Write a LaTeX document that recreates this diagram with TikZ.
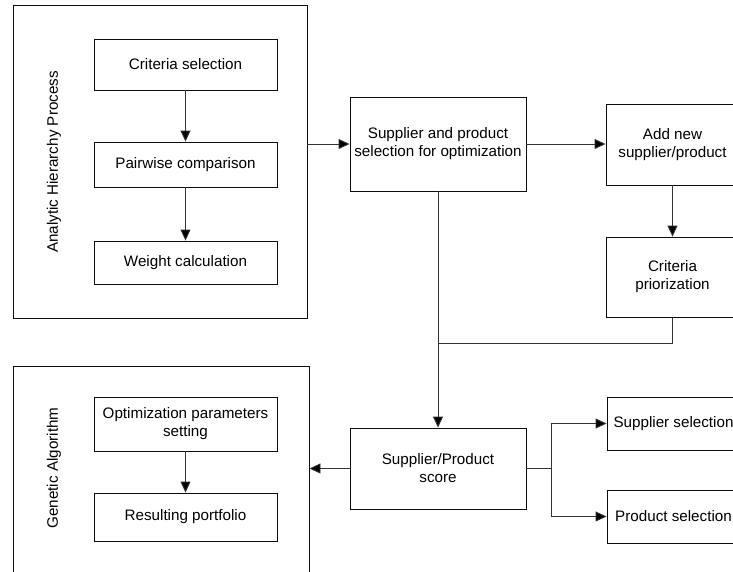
\documentclass[tikz,border=0pt]{standalone}
\usepackage{fontspec}
\setmainfont{Liberation Sans}
\usetikzlibrary{arrows.meta}
\definecolor{boxline}{gray}{0.05}
\definecolor{flowline}{gray}{0.2}
\tikzset{
  txt/.style={font=\fontsize{15.2}{18}\selectfont,text=black},
  grpbox/.style={draw=boxline,line width=0.9pt,rectangle,inner sep=0pt},
  grplab/.style={txt,rotate=90},
  procbox/.style={draw=boxline,line width=0.9pt,rectangle,inner sep=0pt,align=center,txt},
  flow/.style={draw=flowline,line width=0.9pt,-{Triangle[width=10pt,length=11pt,fill=black]}},
  link/.style={draw=flowline,line width=0.9pt},
}

\begin{document}
\begin{tikzpicture}[x=1pt,y=-1pt]
  \useasboundingbox (0,0) rectangle (733,571);
  \clip (0,0) rectangle (733,571);
  % group frames
  \node[grpbox,minimum width=294pt,minimum height=313pt] (ahp) at (160,161.5) {};
  \node[grplab] (ahplab) at (54,162) {Analytic Hierarchy Process};
  \node[grpbox,minimum width=296pt,minimum height=206pt] (ga) at (161,469) {};
  \node[grplab] (galab) at (54,468) {Genetic Algorithm};
  % AHP steps
  \node[procbox,minimum width=183pt,minimum height=51pt] (crit) at (185.5,64.5) {Criteria selection};
  \node[procbox,minimum width=183pt,minimum height=45pt] (pair) at (185.5,164.5) {Pairwise comparison};
  \node[procbox,minimum width=183pt,minimum height=43pt] (weight) at (185.5,262.5) {Weight calculation};
  % GA steps
  \node[procbox,minimum width=183pt,minimum height=54pt] (opt) at (185.5,424) {Optimization parameters\\setting};
  \node[procbox,minimum width=183pt,minimum height=48pt] (result) at (185.5,517) {Resulting portfolio};
  % middle column
  \node[procbox,minimum width=176pt,minimum height=94pt] (sel) at (438,144) {Supplier and product\\selection for optimization};
  \node[procbox,minimum width=176pt,minimum height=81pt] (score) at (438,468.5) {Supplier/Product\\score};
  % right column
  \node[procbox,minimum width=133pt,minimum height=81pt] (addnew) at (672.5,144.5) {Add new\\supplier/product};
  \node[procbox,minimum width=133pt,minimum height=80pt] (prior) at (672.5,277) {Criteria\\priorization};
  \node[procbox,minimum width=133pt,minimum height=53pt] (suppsel) at (673.5,423.5) {Supplier selection};
  \node[procbox,minimum width=133pt,minimum height=53pt] (prodsel) at (673.5,516.5) {Product selection};
  \coordinate (join) at (438,343);
  \coordinate (fork) at (551,468.5);
  % connectors
  \draw[flow] (crit) -- (pair);
  \draw[flow] (pair) -- (weight);
  \draw[flow] (opt) -- (result);
  \draw[flow] (sel.west -| ahp.east) -- (sel.west);
  \draw[flow] (sel.east) -- (sel.east -| addnew.west);
  \draw[flow] (addnew) -- (prior);
  \draw[link] (prior.south) |- (join);
  \draw[flow] (sel.south) -- (score.north);
  \draw[flow] (score.west) -- (score.west -| ga.east);
  \draw[link] (score.east) -- (fork);
  \draw[flow] (fork) |- (suppsel.west);
  \draw[flow] (fork) |- (prodsel.west);
\end{tikzpicture}
\end{document}
